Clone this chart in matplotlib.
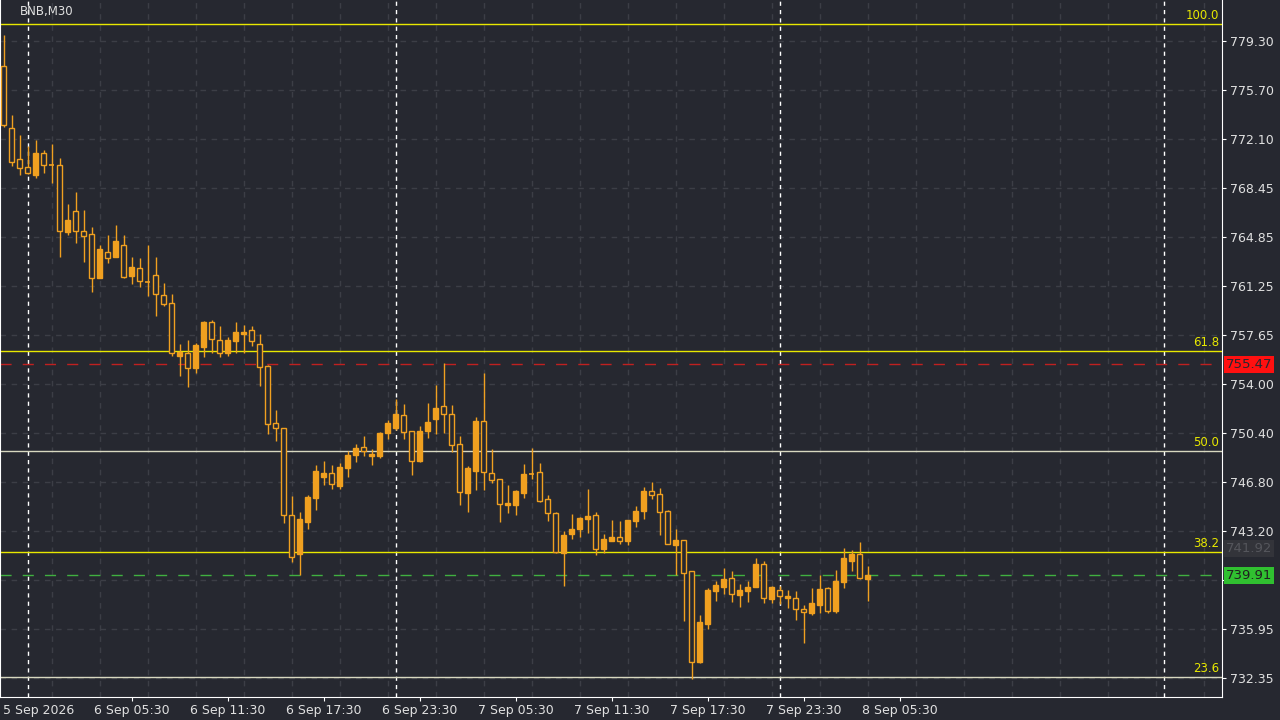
import matplotlib
matplotlib.use("Agg")
import matplotlib.pyplot as plt
from matplotlib.patches import Rectangle

opens = [777.46,772.89,770.58,770.01,769.45,771.02,770.14,770.14,765.25,766.75,765.27,765.07,761.85,763.72,763.40,764.24,762.00,762.55,761.51,762.03,
         760.56,759.97,756.11,756.28,755.22,756.72,758.57,757.24,756.32,757.21,757.73,757.97,756.97,755.34,751.12,750.75,744.34,741.47,743.82,745.64,
         747.19,747.44,746.52,747.85,748.81,749.35,748.73,748.73,750.43,750.80,751.71,750.53,748.37,750.58,751.46,752.40,751.81,749.57,746.01,747.63,
         751.29,747.44,747.00,745.12,745.12,745.99,747.38,747.51,745.52,744.49,741.59,742.94,743.34,744.09,744.34,741.88,742.42,742.72,742.42,743.94,
         744.68,746.13,745.91,744.66,742.17,742.50,740.21,733.55,736.35,738.79,739.08,739.70,738.49,738.79,739.08,740.73,738.19,738.81,738.22,738.22,
         737.41,737.17,737.75,738.98,737.29,739.45,740.99,741.46,739.62]
highs = [779.74,773.85,772.37,771.56,772.00,771.27,771.71,770.68,767.29,768.17,766.84,765.61,764.26,765.00,765.74,765.00,763.36,763.28,764.26,763.36,
         761.44,760.63,756.97,757.26,757.06,758.68,758.74,758.29,757.46,758.57,758.37,758.29,757.70,755.40,752.10,750.75,745.76,744.58,745.82,748.03,
         748.32,748.03,748.17,749.06,749.57,750.16,749.21,750.48,751.34,752.89,752.52,750.53,750.92,752.62,753.94,755.54,752.45,750.16,747.97,751.56,
         754.85,749.25,747.00,746.60,746.21,748.12,749.32,748.17,745.82,744.58,743.18,744.43,744.19,746.26,744.58,742.99,743.99,743.90,744.00,745.03,
         746.45,746.79,746.35,744.73,743.33,742.55,740.21,737.01,738.98,739.49,740.46,740.26,739.27,739.52,741.21,740.97,739.10,739.13,738.83,738.74,
         737.75,738.98,739.92,739.08,740.31,741.93,741.78,742.37,740.60]
lows = [772.96,770.09,769.42,769.50,769.22,769.59,768.86,763.40,765.02,764.43,763.03,760.82,761.85,762.96,763.40,761.85,761.39,761.15,760.53,759.05,
        759.77,756.08,754.61,753.82,754.85,756.03,756.32,756.03,756.08,756.28,756.32,756.81,753.87,750.31,749.84,743.75,740.92,739.92,743.35,744.73,
        746.60,746.30,746.30,747.19,748.29,748.73,748.07,748.59,749.94,750.63,749.99,747.33,748.27,750.06,750.33,750.43,748.98,745.12,744.61,746.21,
        746.21,746.70,743.87,744.53,744.38,745.64,747.00,745.32,743.94,741.54,739.15,742.62,742.76,743.06,741.44,741.54,742.42,742.20,742.17,743.50,
        744.09,745.56,742.91,742.20,739.94,736.55,732.25,733.43,735.98,738.05,738.56,737.97,737.60,737.97,739.08,737.85,737.90,737.80,737.51,736.62,
        734.95,737.01,737.17,737.17,737.17,738.99,740.26,739.62,738.05]
closes = [773.11,770.38,769.92,769.55,771.02,770.14,770.10,765.27,766.11,765.32,764.95,761.85,763.97,763.33,764.56,761.93,762.62,761.63,761.51,760.63,
          759.94,756.28,756.38,755.22,756.89,758.57,757.31,756.28,757.26,757.85,757.85,757.21,755.25,751.05,750.75,744.34,741.29,744.05,745.69,747.59,
          747.44,746.63,747.88,748.76,749.28,749.08,748.86,750.38,751.12,751.81,750.46,748.32,750.53,751.22,752.27,751.81,749.50,746.04,747.83,751.29,
          747.51,746.94,745.15,745.24,746.13,747.38,747.38,745.39,744.49,741.66,742.87,743.34,744.15,744.27,741.83,742.57,742.72,742.42,743.99,744.66,
          746.13,745.81,744.57,742.20,742.52,740.07,733.50,736.45,738.81,739.20,739.64,738.52,738.83,739.08,740.75,738.22,739.05,738.37,738.37,737.41,
          737.19,737.86,738.91,737.31,739.47,741.19,741.49,739.70,739.91]

price_ticks = [779.30,775.70,772.10,768.45,764.85,761.25,757.65,754.00,750.40,746.80,743.20,739.55,735.95,732.35]
hidden_ticks = [739.55]
time_labels = ["6 Sep 05:30","6 Sep 11:30","6 Sep 17:30","6 Sep 23:30","7 Sep 05:30","7 Sep 11:30","7 Sep 17:30","7 Sep 23:30","8 Sep 05:30"]
time_label_idx = [16,28,40,52,64,76,88,100,112]
separator_idx = [3,49,97,145]
fib_levels = [100.0,61.8,50.0,38.2,23.6]
fib_prices = [780.55,756.45,749.08,741.63,732.42]
fib_colors = ["#e8e800","#e8e800","#d8d8c0","#e8e800","#d8d8c0"]
ask_price = 755.47
bid_price = 739.91
grey_price = 741.92
white_price = 740.10

BG = "#262830"
CAND = "#f0a020"
fig = plt.figure(figsize=(12.8,7.2), dpi=100, facecolor=BG)
ax = fig.add_axes([0, 23/720, 1222/1280, 697/720])
ax.set_facecolor(BG)
ax.set_xlim(-0.44, 152.3)
ax.set_ylim(730.95, 782.32)

for t in price_ticks:
    ax.axhline(t, color="#3c3e46", lw=1, ls=(0,(4,4)), zorder=0)
for i in range(6, 153, 6):
    ax.axvline(i, color="#3c3e46", lw=1, ls=(0,(4,4)), zorder=0)
for i in separator_idx:
    ax.axvline(i, color="white", lw=1, ls=(0,(3,3)), zorder=1)

for lvl, p, c in zip(fib_levels, fib_prices, fib_colors):
    ax.axhline(p, color=c, lw=1, zorder=2)
    ax.text(151.9, p+0.15, f"{lvl:.1f}", color="#e8e800", fontsize=8.5, ha="right", va="bottom", zorder=5)

ax.axhline(ask_price, color="#c02020", lw=1, ls=(0,(8,8)), zorder=1)
ax.axhline(bid_price, color="#40b040", lw=1, ls=(0,(8,8)), zorder=1)

w = 0.6
for i,(o,h,l,c) in enumerate(zip(opens,highs,lows,closes)):
    ax.vlines(i, l, h, color=CAND, lw=1, zorder=3)
    lo, hi = min(o,c), max(o,c)
    if hi - lo < 0.08:
        ax.hlines(o, i-w/2, i+w/2, color=CAND, lw=1.2, zorder=4)
    elif c > o:
        ax.add_patch(Rectangle((i-w/2, lo), w, hi-lo, facecolor=CAND, edgecolor=CAND, lw=1, zorder=4))
    else:
        ax.add_patch(Rectangle((i-w/2, lo), w, hi-lo, facecolor=BG, edgecolor=CAND, lw=1, zorder=4))

ax.yaxis.tick_right()
ax.set_yticks(price_ticks)
ax.set_yticklabels(["" if t in hidden_ticks else f"{t:.2f}" for t in price_ticks], color="#e0e0e0", fontsize=9)
ax.tick_params(axis="y", length=3, color="white", pad=3)
ax.set_xticks(time_label_idx)
ax.set_xticklabels(time_labels, color="#e0e0e0", fontsize=9)
ax.tick_params(axis="x", length=3, color="white", pad=2)
ax.text(-0.1, -0.0105, "5 Sep 2026", transform=ax.get_xaxis_transform(), color="#e0e0e0", fontsize=9, ha="left", va="top")
ax.spines["top"].set_visible(False)
for s in ["left","right","bottom"]:
    ax.spines[s].set_color("white")

def tag(p, txt, fc, tc):
    ax.text(1.003, p, txt, transform=ax.get_yaxis_transform(), fontsize=9.5, color=tc, va="center", ha="left",
            bbox=dict(boxstyle="square,pad=0.15", fc=fc, ec="none"), zorder=6, clip_on=False)
tag(grey_price, f"{grey_price:.2f}", "#33343a", "#55565c")
# white tag mostly hidden behind the bid tag: show only its box edge
ax.add_patch(Rectangle((1.002, white_price - 0.35), 0.038, 0.7, transform=ax.get_yaxis_transform(),
                       facecolor="white", edgecolor="none", clip_on=False, zorder=6))
tag(ask_price, f"{ask_price:.2f}", "#ff1010", "#262830")
tag(bid_price, f"{bid_price:.2f}", "#30c030", "#202020")

fig.text(20/1280, 1-12/720, "BNB,M30", color="#e0e0e0", fontsize=8.5, va="center")
fig.savefig("out.png", dpi=100, facecolor=BG)
